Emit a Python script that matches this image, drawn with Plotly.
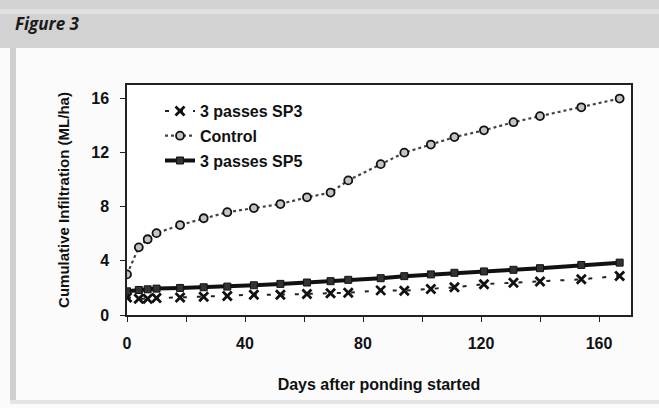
import plotly.graph_objects as go

# Data
days = [0, 4, 7, 10, 18, 26, 34, 43, 52, 61, 69, 75, 86, 94, 103, 111, 121, 131, 140, 154, 167]
control = [3.0, 5.0, 5.6, 6.05, 6.65, 7.15, 7.6, 7.9, 8.2, 8.7, 9.05, 9.95, 11.15, 12.0, 12.6, 13.15, 13.65, 14.25, 14.7, 15.35, 16.0]
sp5 = [1.75, 1.85, 1.9, 1.95, 2.0, 2.05, 2.1, 2.2, 2.3, 2.4, 2.5, 2.6, 2.72, 2.87, 3.0, 3.12, 3.22, 3.34, 3.46, 3.7, 3.87]
sp3 = [1.3, 1.2, 1.2, 1.25, 1.3, 1.35, 1.4, 1.5, 1.5, 1.55, 1.6, 1.65, 1.82, 1.8, 1.93, 2.05, 2.28, 2.38, 2.47, 2.64, 2.89]

x_ticks = [0, 40, 80, 120, 160]
y_ticks = [0, 4, 8, 12, 16]

FONT = "Liberation Sans, Arial, Helvetica, sans-serif"

fig = go.Figure()

fig.add_trace(go.Scatter(
    x=days, y=sp3, name="3 passes SP3", mode="lines+markers",
    line=dict(color="#222222", width=2, dash="4px,10px"),
    marker=dict(symbol="x-thin", size=9, line=dict(color="#111111", width=2.8)),
    legendgroup="a",
))
fig.add_trace(go.Scatter(
    x=days, y=control, name="Control", mode="lines+markers",
    line=dict(color="#444444", width=2.2, dash="dot"),
    marker=dict(symbol="circle", size=8, color="#c4c4c4", line=dict(color="#111111", width=1.8)),
    legendgroup="b",
))
fig.add_trace(go.Scatter(
    x=days, y=sp5, name="3 passes SP5", mode="lines+markers",
    line=dict(color="#111111", width=4),
    marker=dict(symbol="square", size=7, color="#333333", line=dict(color="#111111", width=1)),
    legendgroup="c",
))

# Scanned page decorations (positions in paper coords of the plot area)
L, R, T, B = 127, 631, 85, 315
W, H = R - L, B - T
def px(xp):
    return (xp - L) / W
def py(yp):
    return (B - yp) / H

shapes = [
    dict(type="rect", xref="paper", yref="paper", x0=px(0), x1=px(659), y0=py(48), y1=py(0),
         fillcolor="#d2d2d2", line=dict(width=0), layer="below"),
    dict(type="rect", xref="paper", yref="paper", x0=px(0), x1=px(659), y0=py(14), y1=py(9),
         fillcolor="#e0e0e0", line=dict(width=0), layer="below"),
    dict(type="rect", xref="paper", yref="paper", x0=px(10), x1=px(16), y0=py(404), y1=py(48),
         fillcolor="#cfcfcf", line=dict(width=0), layer="below"),
    dict(type="rect", xref="paper", yref="paper", x0=px(10), x1=px(659), y0=py(404), y1=py(400),
         fillcolor="#e4e4e4", line=dict(width=0), layer="below"),
]

fig.update_layout(
    width=659, height=408,
    margin=dict(l=L, r=659 - R, t=T, b=408 - B),
    paper_bgcolor="#fbfbfb", plot_bgcolor="#ffffff",
    font=dict(family=FONT, color="#111111", size=15, weight="bold"),
    shapes=shapes,
    showlegend=True,
    legend=dict(
        x=px(160), y=py(94), xanchor="left", yanchor="top",
        bgcolor="rgba(0,0,0,0)", borderwidth=0,
        font=dict(family=FONT, size=16, color="#111111", weight="bold"),
        tracegroupgap=1, traceorder="grouped",
    ),
    annotations=[
        dict(text="Figure 3", xref="paper", yref="paper", x=px(13), y=py(24),
             xanchor="left", yanchor="middle", showarrow=False,
             font=dict(family="Open Sans, Noto Sans, sans-serif", size=17, color="#1a1a1a",
                       weight="bold", style="italic")),
    ],
)

fig.update_xaxes(
    range=[0, W / 2.95], tickmode="array", tickvals=x_ticks, ticktext=[str(v) for v in x_ticks],
    ticks="outside", ticklen=5, tickwidth=1, tickcolor="#222",
    minor=dict(dtick=20, tick0=0, ticks="outside", ticklen=5, tickcolor="#222"),
    showgrid=False, zeroline=False,
    showline=True, linecolor="#222", linewidth=1.5, mirror=True,
    tickfont=dict(family=FONT, size=16, weight="bold"),
    ticklabelstandoff=8,
    title=dict(text="Days after ponding started", standoff=28,
               font=dict(family=FONT, size=16, weight="bold")),
)
fig.update_yaxes(
    range=[0, 17], tickmode="array", tickvals=y_ticks, ticktext=[str(v) for v in y_ticks],
    ticks="outside", ticklen=5, tickwidth=1, tickcolor="#222",
    showgrid=False, zeroline=False,
    showline=True, linecolor="#222", linewidth=1.5, mirror=True,
    tickfont=dict(family=FONT, size=16, weight="bold"),
    ticklabelstandoff=8,
    title=dict(text="Cumulative Infiltration (ML/ha)", standoff=18,
               font=dict(family=FONT, size=15, weight="bold")),
)

fig.write_html("out.html")
